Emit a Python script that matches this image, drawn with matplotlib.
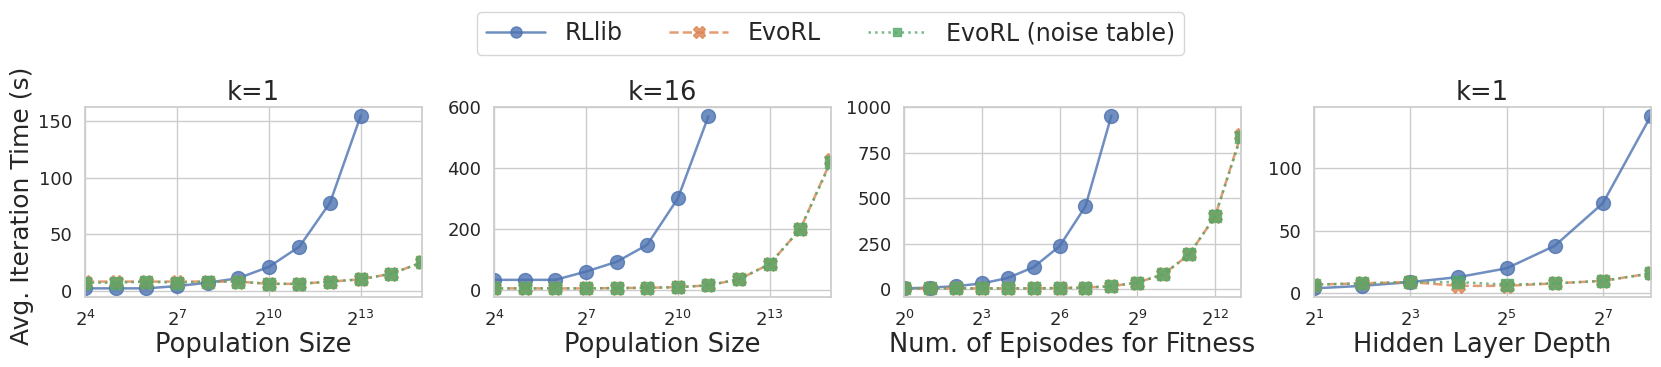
import numpy as np
import matplotlib
matplotlib.use('Agg')
import matplotlib.pyplot as plt
import seaborn as sns

sns.set_theme(style='whitegrid')
plt.rcParams['font.family'] = ['DejaVu Sans']

# exponents (base 2) for x values
p1_rllib_exp = list(range(4, 14))
p1_rllib = [2, 2, 2, 4, 7, 11, 21, 39, 78, 155]
p1_evo_exp = list(range(4, 16))
p1_evo = [8, 8, 8, 8, 8, 8, 6, 6, 8, 10, 15, 25]
p1_noise = [7, 7, 8, 7, 8, 8, 6, 6, 8, 10, 15, 25]

p2_rllib_exp = list(range(4, 12))
p2_rllib = [33, 33, 33, 60, 92, 148, 300, 570]
p2_evo_exp = list(range(4, 16))
p2_evo = [5, 5, 5, 5, 6, 7, 9, 15, 35, 85, 200, 425]
p2_noise = [5, 5, 5, 5, 6, 7, 9, 15, 35, 85, 200, 420]

p3_rllib_exp = list(range(0, 9))
p3_rllib = [3, 7, 15, 30, 60, 120, 235, 455, 955]
p3_evo_exp = list(range(0, 14))
p3_evo = [3, 3, 3, 3, 3, 3, 5, 7, 15, 35, 80, 190, 400, 850]
p3_noise = [3, 3, 3, 3, 3, 3, 5, 7, 15, 35, 80, 190, 400, 840]

p4_rllib_exp = list(range(1, 9))
p4_rllib = [4, 6, 9, 13, 20, 38, 72, 142]
p4_evo_exp = list(range(1, 9))
p4_evo = [7, 8, 9, 6, 6, 8, 10, 16]
p4_noise = [7, 8, 9, 9, 7, 8, 10, 16]

titles = ['k=1', 'k=16', '', 'k=1']
xlabels = ['Population Size', 'Population Size', 'Num. of Episodes for Fitness', 'Hidden Layer Depth']
xtick_exps = [[4, 7, 10, 13], [4, 7, 10, 13], [0, 3, 6, 9, 12], [1, 3, 5, 7]]
yticks = [[0, 50, 100, 150], [0, 200, 400, 600], [0, 250, 500, 750, 1000], [0, 50, 100]]

panels = [
    (p1_rllib_exp, p1_rllib, p1_evo_exp, p1_evo, p1_noise),
    (p2_rllib_exp, p2_rllib, p2_evo_exp, p2_evo, p2_noise),
    (p3_rllib_exp, p3_rllib, p3_evo_exp, p3_evo, p3_noise),
    (p4_rllib_exp, p4_rllib, p4_evo_exp, p4_evo, p4_noise),
]

colors = sns.color_palette('deep')
W, H = 1661, 367
fig = plt.figure(figsize=(W / 100, H / 100), dpi=100)
lefts = [85, 494, 904, 1314]
width = 337
top, bottom = 107, 297

handles = None
for i, (rx, ry, ex, ey, ny) in enumerate(panels):
    ax = fig.add_axes([lefts[i] / W, 1 - bottom / H, width / W, (bottom - top) / H])
    rx2 = [2.0 ** e for e in rx]
    ex2 = [2.0 ** e for e in ex]
    h1, = ax.plot(rx2, ry, '-o', color=colors[0], lw=1.8, ms=10, alpha=0.8, label='RLlib')
    h2, = ax.plot(ex2, ey, '--X', color=colors[1], lw=1.8, ms=10, alpha=0.8, label='EvoRL')
    h3, = ax.plot(ex2, ny, ':s', color=colors[2], lw=1.8, ms=8, alpha=0.8, label='EvoRL (noise table)')
    handles = [h1, h2, h3]
    ax.set_xscale('log', base=2)
    ax.set_xlim(ex2[0], ex2[-1])
    ax.set_xticks([2.0 ** e for e in xtick_exps[i]])
    ax.set_xticklabels([r'$2^{%d}$' % e for e in xtick_exps[i]])
    ax.minorticks_off()
    ax.set_yticks(yticks[i])
    ax.tick_params(labelsize=13, pad=3)
    ax.set_xlabel(xlabels[i], fontsize=18.5, labelpad=2)
    if titles[i]:
        ax.set_title(titles[i], fontsize=18.5, pad=5)

fig.text(22 / W, 0.44, 'Avg. Iteration Time (s)', rotation=90, va='center', ha='center', fontsize=18)
fig.legend(handles, [h.get_label() for h in handles], loc='upper center',
           bbox_to_anchor=(0.5, 1.0), ncol=3, fontsize=17, frameon=True,
           columnspacing=2.0, handlelength=2.5, markerscale=0.8)

fig.savefig('out.png', dpi=100)
